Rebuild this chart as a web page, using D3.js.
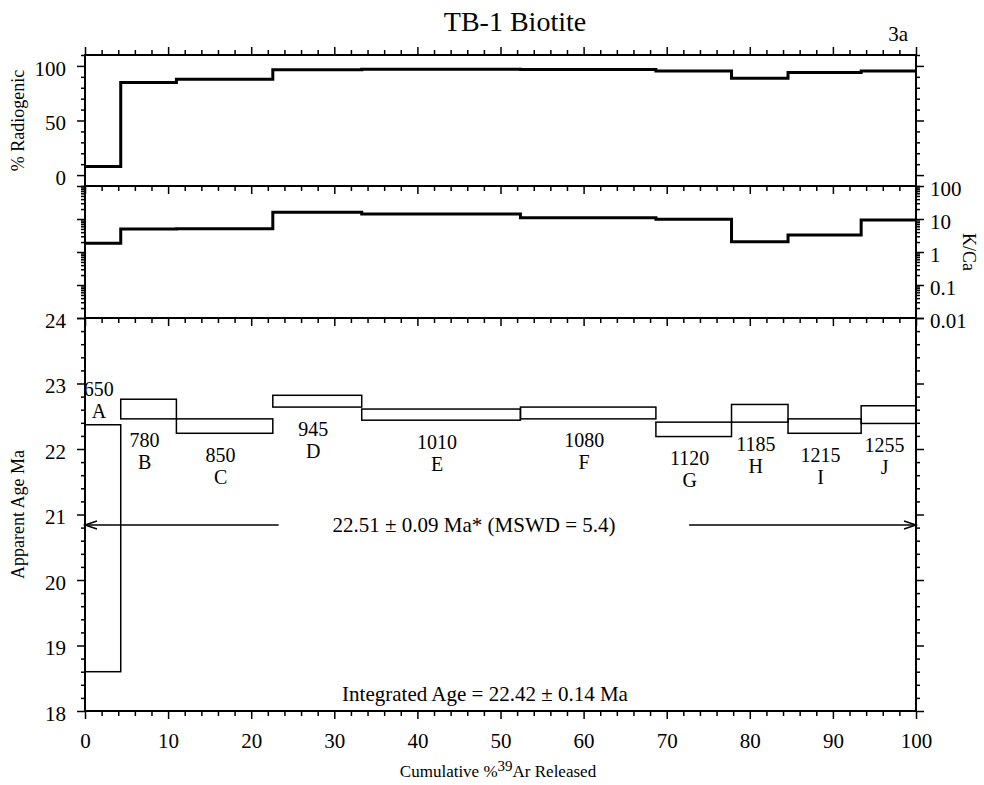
<!DOCTYPE html>
<html>
<head>
<meta charset="utf-8">
<script src="https://cdn.jsdelivr.net/npm/d3@7"></script>
<style>
body { margin: 0; background: #fff; }
text { font-family: "Liberation Serif", "Times New Roman", serif; fill: #000; }
</style>
</head>
<body>
<div id="chart"></div>
<script>
// heating steps
var steps = ["A", "B", "C", "D", "E", "F", "G", "H", "I", "J"];
var temps = [650, 780, 850, 945, 1010, 1080, 1120, 1185, 1215, 1255];
// cumulative % 39Ar at step edges
var cum39 = [0, 4.3, 11.0, 22.6, 33.3, 52.4, 68.7, 77.8, 84.6, 93.4, 100];
var radiogenic = [7.9, 84.7, 87.7, 96.5, 96.9, 96.8, 95.3, 88.7, 93.9, 95.4];
var kca = [1.84, 4.98, 5.05, 15.9, 14.2, 10.9, 9.8, 2.05, 3.27, 9.3];
// age error boxes (Ma)
var ageHigh = [22.37, 22.76, 22.46, 22.82, 22.61, 22.64, 22.41, 22.68, 22.46, 22.66];
var ageLow = [18.60, 22.46, 22.24, 22.64, 22.44, 22.46, 22.19, 22.41, 22.24, 22.39];
// plateau arrows (cumulative %) and the age level they are drawn at
var plateauArrows = [[0, 23.3], [72.7, 100]];
var arrowAge = 20.84;

// tick labels
var xTicks = [0, 10, 20, 30, 40, 50, 60, 70, 80, 90, 100];
var radTicks = [0, 50, 100];
var kcaTicks = [0.01, 0.1, 1, 10, 100];
var ageTicks = [18, 19, 20, 21, 22, 23, 24];

var svg = d3.select("#chart")
    .append("svg")
    .attr("width", 984)
    .attr("height", 785);

var left = 85, right = 916;
var topY = 55, midY = 186, lowY = 318, bottomY = 711;

var x = d3.scaleLinear().domain([0, 100]).range([left, right]);
var yRad = d3.scaleLinear().domain([-10, 110]).range([midY, topY]);
var yK = d3.scaleLog().domain([0.01, 100]).range([lowY, midY]);
var yAge = d3.scaleLinear().domain([18, 24]).range([bottomY, lowY]);

function notIn(list) {
    return function(v) {
        return !list.some(function(m) { return Math.abs(m - v) < 1e-6; });
    };
}

// draws a set of ticks with a d3 axis, labels optional
function addTicks(axis, values, size, tx, ty, labels, pad) {
    var g = svg.append("g")
        .attr("transform", "translate(" + tx + "," + ty + ")")
        .call(axis.tickValues(values)
            .tickSize(size)
            .tickPadding(pad || 3)
            .tickFormat(labels ? function(d) { return String(d); } : ""));
    g.select(".domain").remove();
    g.selectAll("line").attr("stroke", "#000").attr("stroke-width", 1.5);
    g.selectAll("text").style("font-size", "21px");
    return g;
}

// x ticks on every horizontal border
var xMinor = d3.range(0, 101, 2).filter(notIn(xTicks));
addTicks(d3.axisTop(x), xMinor, 5, 0, topY);
addTicks(d3.axisTop(x), xTicks, 8, 0, topY);
[midY, lowY].forEach(function(yy) {
    addTicks(d3.axisBottom(x), xMinor, 5, 0, yy);
    addTicks(d3.axisBottom(x), xTicks, 8, 0, yy);
});
addTicks(d3.axisBottom(x), xMinor, 5, 0, bottomY);
addTicks(d3.axisBottom(x), xTicks, 8, 0, bottomY, true, 14);

// % radiogenic ticks
var radMinor = d3.range(-10, 111, 10).filter(notIn(radTicks));
addTicks(d3.axisLeft(yRad), radMinor, 4, left, 0);
addTicks(d3.axisLeft(yRad), radTicks, 8, left, 0, true, 11)
    .selectAll("text").attr("dy", "0.45em");
addTicks(d3.axisRight(yRad), radMinor, 4, right, 0);
addTicks(d3.axisRight(yRad), radTicks, 8, right, 0);

// K/Ca log ticks
var kMinor = yK.ticks().filter(notIn(kcaTicks));
addTicks(d3.axisLeft(yK), kMinor, 4, left, 0);
addTicks(d3.axisLeft(yK), kcaTicks, 8, left, 0);
addTicks(d3.axisRight(yK), kMinor, 4, right, 0);
addTicks(d3.axisRight(yK), kcaTicks, 8, right, 0, true, 6)
    .selectAll("text").attr("dy", "0.45em");

// age ticks
var ageMinor = d3.range(18, 24.01, 0.2).filter(notIn(ageTicks));
addTicks(d3.axisLeft(yAge), ageMinor, 4, left, 0);
addTicks(d3.axisLeft(yAge), ageTicks, 8, left, 0, true, 11)
    .selectAll("text").attr("dy", "0.45em");
addTicks(d3.axisRight(yAge), ageMinor, 4, right, 0);
addTicks(d3.axisRight(yAge), ageTicks, 8, right, 0);

// panel frames
[[topY, midY], [midY, lowY], [lowY, bottomY]].forEach(function(p) {
    svg.append("rect")
        .attr("x", left).attr("y", p[0])
        .attr("width", right - left).attr("height", p[1] - p[0])
        .attr("fill", "none").attr("stroke", "#000").attr("stroke-width", 2);
});

// step lines for the two upper panels
function stepPoints(vals) {
    var pts = vals.map(function(v, i) { return [cum39[i], v]; });
    pts.push([cum39[cum39.length - 1], vals[vals.length - 1]]);
    return pts;
}
svg.append("path")
    .datum(stepPoints(radiogenic))
    .attr("fill", "none").attr("stroke", "#000").attr("stroke-width", 3)
    .attr("d", d3.line().curve(d3.curveStepAfter)
        .x(function(d) { return x(d[0]); })
        .y(function(d) { return yRad(d[1]); }));
svg.append("path")
    .datum(stepPoints(kca))
    .attr("fill", "none").attr("stroke", "#000").attr("stroke-width", 3)
    .attr("d", d3.line().curve(d3.curveStepAfter)
        .x(function(d) { return x(d[0]); })
        .y(function(d) { return yK(d[1]); }));

// age spectrum boxes
svg.append("g")
    .selectAll("rect")
    .data(steps)
    .enter()
    .append("rect")
    .attr("x", function(d, i) { return x(cum39[i]); })
    .attr("y", function(d, i) { return yAge(ageHigh[i]); })
    .attr("width", function(d, i) { return x(cum39[i + 1]) - x(cum39[i]); })
    .attr("height", function(d, i) { return yAge(ageLow[i]) - yAge(ageHigh[i]); })
    .attr("fill", "none").attr("stroke", "#000").attr("stroke-width", 1.5);

// step labels: temperature over letter, above the box when it is tall
var lab = svg.append("g").style("font-size", "20px").attr("text-anchor", "middle");
steps.forEach(function(s, i) {
    var cx = x((cum39[i] + cum39[i + 1]) / 2) - 4;
    var above = ageHigh[i] - ageLow[i] > 1;
    var base = above ? yAge(ageHigh[i]) - 29 : yAge(ageLow[i]) + 28.5;
    lab.append("text").attr("x", cx).attr("y", base).text(temps[i]);
    lab.append("text").attr("x", cx).attr("y", base + 22).text(s);
});

// plateau arrows
plateauArrows.forEach(function(a, k) {
    var ay = yAge(arrowAge);
    svg.append("line")
        .attr("x1", x(a[0])).attr("x2", x(a[1]))
        .attr("y1", ay).attr("y2", ay)
        .attr("stroke", "#000").attr("stroke-width", 1.5);
    var tip = k === 0 ? x(a[0]) : x(a[1]);
    var dir = k === 0 ? 1 : -1;
    svg.append("path")
        .attr("d", "M" + (tip + dir * 12) + "," + (ay - 4) + "L" + tip + "," + ay + "L" + (tip + dir * 12) + "," + (ay + 4))
        .attr("fill", "none").attr("stroke", "#000").attr("stroke-width", 1.5);
});

svg.append("text")
    .attr("x", 474).attr("y", 532)
    .attr("text-anchor", "middle")
    .style("font-size", "21px")
    .text("22.51 \u00b1 0.09 Ma* (MSWD = 5.4)");

svg.append("text")
    .attr("x", 485).attr("y", 701)
    .attr("text-anchor", "middle")
    .style("font-size", "21px")
    .text("Integrated Age = 22.42 \u00b1 0.14 Ma");

// titles
svg.append("text")
    .attr("x", 515).attr("y", 31)
    .attr("text-anchor", "middle")
    .style("font-size", "28px")
    .text("TB-1 Biotite");

svg.append("text")
    .attr("x", 908).attr("y", 41)
    .attr("text-anchor", "end")
    .style("font-size", "21px")
    .text("3a");

svg.append("text")
    .attr("transform", "translate(24," + ((topY + midY) / 2) + ") rotate(-90)")
    .attr("text-anchor", "middle")
    .style("font-size", "18px")
    .text("% Radiogenic");

svg.append("text")
    .attr("transform", "translate(24," + ((lowY + bottomY) / 2) + ") rotate(-90)")
    .attr("text-anchor", "middle")
    .style("font-size", "18px")
    .text("Apparent Age Ma");

svg.append("text")
    .attr("transform", "translate(963," + ((midY + lowY) / 2) + ") rotate(90)")
    .attr("text-anchor", "middle")
    .style("font-size", "18px")
    .text("K/Ca");

var xt = svg.append("text")
    .attr("x", 498).attr("y", 777)
    .attr("text-anchor", "middle")
    .style("font-size", "17px");
xt.append("tspan").text("Cumulative %");
xt.append("tspan").attr("dy", -6).style("font-size", "15px").text("39");
xt.append("tspan").attr("dy", 6).text("Ar Released");
</script>
</body>
</html>
